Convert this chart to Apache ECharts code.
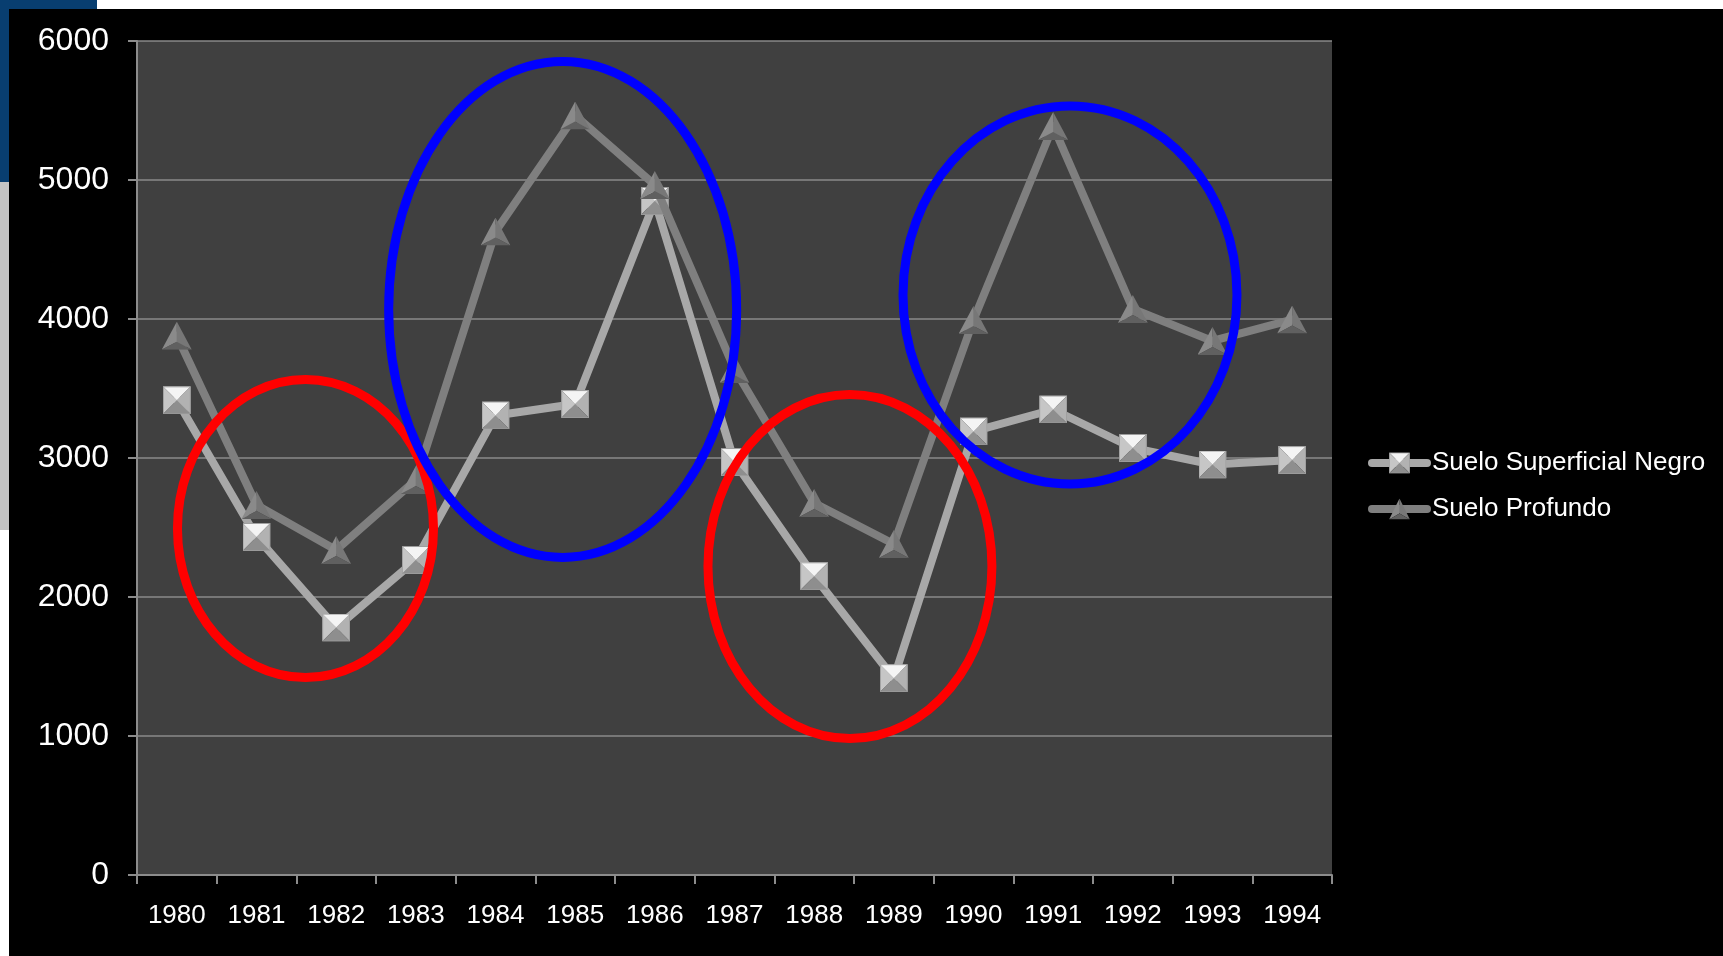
<!DOCTYPE html>
<html>
<head>
<meta charset="utf-8">
<title>Suelo Superficial Negro / Suelo Profundo</title>
<script src="https://cdn.jsdelivr.net/npm/echarts@6/dist/echarts.min.js"></script>
<style>
  html, body { margin: 0; padding: 0; background: #ffffff; }
  #chart { width: 1723px; height: 956px; }
</style>
</head>
<body>
<div id="chart"></div>
<script>
// Years on the category axis
const years = ['1980', '1981', '1982', '1983', '1984', '1985', '1986', '1987',
               '1988', '1989', '1990', '1991', '1992', '1993', '1994'];

// Series values
const sueloSuperficialNegro = [3415, 2432, 1780, 2266, 3306, 3388, 4849, 2971,
                               2149, 1416, 3191, 3349, 3072, 2953, 2985];
const sueloProfundo = [3880, 2662, 2338, 2842, 4629, 5464, 4964, 3640,
                       2676, 2381, 3993, 5388, 4072, 3842, 3996];

const seriesNames = ['Suelo Superficial Negro', 'Suelo Profundo'];

// Value axis ticks
const yMin = 0, yMax = 6000, yStep = 1000;

// Highlight rings: centre as (category index, value), radii in category widths / value units
const rings = [
  { cx: 1.615, cy: 2492, rx: 1.607, ry: 1072, color: '#ff0000' },
  { cx: 4.843, cy: 4069, rx: 2.184, ry: 1784, color: '#0000ff' },
  { cx: 8.449, cy: 2219, rx: 1.782, ry: 1237, color: '#ff0000' },
  { cx: 11.211, cy: 4173, rx: 2.096, ry: 1360, color: '#0000ff' }
];

// Bevelled marker images
function svgSymbol(svg) {
  return 'image://data:image/svg+xml;utf8,' + encodeURIComponent(svg);
}
const squareSvg =
  "<svg xmlns='http://www.w3.org/2000/svg' width='28' height='28' viewBox='0 0 28 28'>" +
  "<polygon points='0,0 28,0 14,14' fill='#f4f4f4'/>" +
  "<polygon points='0,0 14,14 0,28' fill='#c6c6c6'/>" +
  "<polygon points='28,0 28,28 14,14' fill='#b2b2b2'/>" +
  "<polygon points='0,28 28,28 14,14' fill='#8e8e8e'/>" +
  "<rect x='0.5' y='0.5' width='27' height='27' fill='none' stroke='#9c9c9c' stroke-width='1'/>" +
  "</svg>";
const triangleSvg =
  "<svg xmlns='http://www.w3.org/2000/svg' width='30' height='28' viewBox='0 0 30 28'>" +
  "<polygon points='15,0 0,28 15,20' fill='#8a8a8a'/>" +
  "<polygon points='15,0 15,20 30,28' fill='#777777'/>" +
  "<polygon points='0,28 30,28 15,20' fill='#606060'/>" +
  "</svg>";

const chart = echarts.init(document.getElementById('chart'), null, { renderer: 'canvas' });

const option = {
  backgroundColor: '#ffffff',
  animation: false,
  textStyle: { fontFamily: '"Liberation Sans", Arial, sans-serif' },
  graphic: [
    { type: 'rect', id: 'blueTop', z: -100, silent: true,
      shape: { x: 0, y: 0, width: 97, height: 10 }, style: { fill: '#083e70' } },
    { type: 'rect', id: 'blueSide', z: -100, silent: true,
      shape: { x: 0, y: 0, width: 10, height: 182 }, style: { fill: '#083e70' } },
    { type: 'rect', id: 'graySide', z: -100, silent: true,
      shape: { x: 0, y: 182, width: 10, height: 348 }, style: { fill: '#c4c4c4' } },
    { type: 'rect', id: 'panel', z: -99, silent: true,
      shape: { x: 9, y: 9, width: 1714, height: 947 }, style: { fill: '#000000' } }
  ],
  grid: {
    left: 137, right: 391, top: 41, bottom: 81,
    show: true, backgroundColor: '#404040', borderWidth: 0
  },
  legend: {
    orient: 'vertical',
    left: 1368, top: 450,
    itemWidth: 55, itemHeight: 26, itemGap: 20,
    padding: 0,
    lineStyle: { width: 8, cap: 'round' },
    textStyle: { color: '#ffffff', fontSize: 26, fontFamily: '"Liberation Sans", Arial, sans-serif' },
    data: seriesNames
  },
  xAxis: {
    type: 'category',
    data: years,
    boundaryGap: true,
    axisLine: { show: true, lineStyle: { color: '#8c8c8c', width: 2 } },
    axisTick: { show: true, inside: false, length: 9, interval: 0,
                lineStyle: { color: '#8c8c8c', width: 2 } },
    axisLabel: { color: '#ffffff', fontSize: 26, margin: 28, interval: 0 },
    splitLine: { show: false }
  },
  yAxis: {
    type: 'value',
    min: yMin, max: yMax, interval: yStep,
    axisLine: { show: true, lineStyle: { color: '#8c8c8c', width: 2 } },
    axisTick: { show: true, inside: false, length: 9,
                lineStyle: { color: '#8c8c8c', width: 2 } },
    axisLabel: { color: '#ffffff', fontSize: 32, margin: 28,
                 formatter: function (v) { return String(v); } },
    splitLine: { show: true, lineStyle: { color: '#8a8a8a', width: 1.5 } }
  },
  series: [
    {
      name: seriesNames[0],
      type: 'line',
      data: sueloSuperficialNegro,
      z: 2,
      symbol: svgSymbol(squareSvg),
      symbolSize: [28, 28],
      showAllSymbol: true,
      lineStyle: { color: '#a8a8a8', width: 8, cap: 'round', join: 'round' },
      itemStyle: { color: '#a8a8a8' }
    },
    {
      name: seriesNames[1],
      type: 'line',
      data: sueloProfundo,
      z: 3,
      symbol: svgSymbol(triangleSvg),
      symbolSize: [30, 28],
      showAllSymbol: true,
      lineStyle: { color: '#7f7f7f', width: 8, cap: 'round', join: 'round' },
      itemStyle: { color: '#7f7f7f' }
    }
  ]
};

chart.setOption(option);

// Highlight rings positioned through the chart's own axes.
// Category positions are interpolated between neighbouring category centres.
function drawRings() {
  const p0 = chart.convertToPixel({ gridIndex: 0 }, [0, 0]);
  const p1 = chart.convertToPixel({ gridIndex: 0 }, [1, 0]);
  const step = p1[0] - p0[0];
  const els = rings.map(function (r, i) {
    const top = chart.convertToPixel({ gridIndex: 0 }, [0, r.cy + r.ry]);
    const mid = chart.convertToPixel({ gridIndex: 0 }, [0, r.cy]);
    return {
      type: 'ellipse',
      id: 'ring' + i,
      z: 100,
      silent: true,
      shape: { cx: p0[0] + r.cx * step, cy: mid[1], rx: r.rx * step, ry: Math.abs(mid[1] - top[1]) },
      style: { fill: null, stroke: r.color, lineWidth: 9 }
    };
  });
  chart.setOption({ graphic: els });
}
drawRings();
</script>
</body>
</html>
